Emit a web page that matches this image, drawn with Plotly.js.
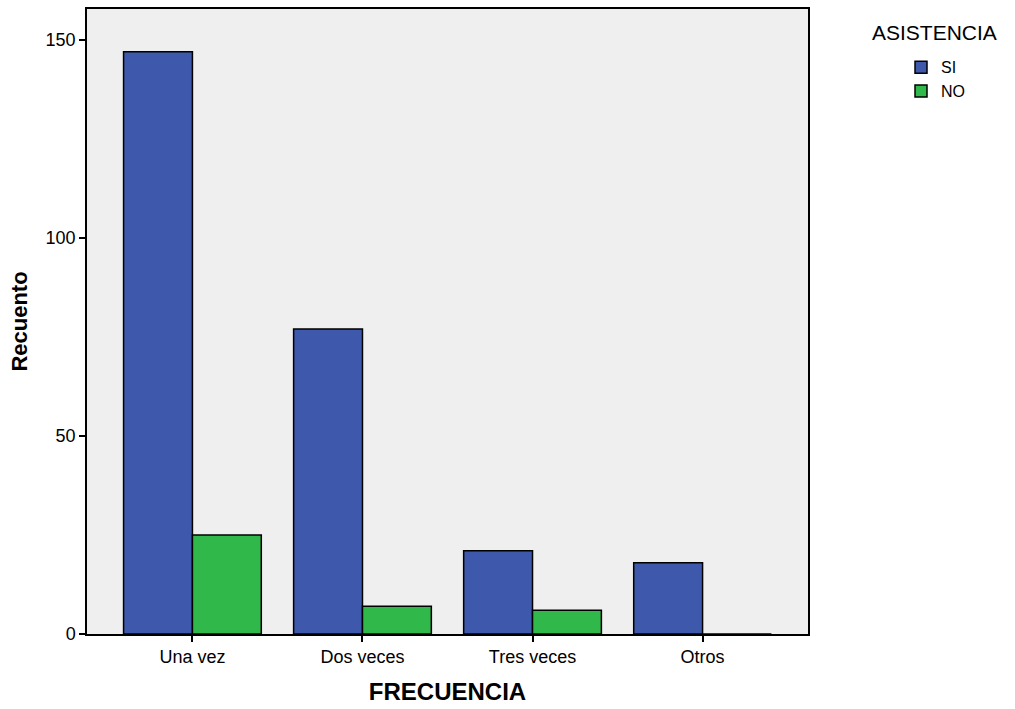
<!DOCTYPE html>
<html>
<head>
<meta charset="utf-8">
<script src="https://cdn.plot.ly/plotly-3.0.1.min.js"></script>
<style>body{margin:0;padding:0;background:#fff}#chart{width:1015px;height:709px}</style>
</head>
<body>
<div id="chart"></div>
<script>
const categories = ["Una vez", "Dos veces", "Tres veces", "Otros"];
const siValues = [147, 77, 21, 18];
const noValues = [25, 7, 6, 0];
const seriesNames = ["SI", "NO"];
const legendTitle = "ASISTENCIA";
const yTicks = [0, 50, 100, 150];

const traces = [
  {type: "bar", name: seriesNames[0], x: categories, y: siValues,
   marker: {color: "#3e58ab", line: {color: "#000", width: 1.5}}},
  {type: "bar", name: seriesNames[1], x: categories, y: noValues,
   marker: {color: "#30b84a", line: {color: "#000", width: 1.5}}}
];

const layout = {
  width: 1015, height: 709,
  margin: {l: 87, r: 207, t: 9, b: 75},
  paper_bgcolor: "#ffffff",
  plot_bgcolor: "#efefef",
  font: {family: "Liberation Sans, Arial, sans-serif", color: "#000", size: 18},
  barmode: "group",
  bargap: 0.19,
  bargroupgap: 0,
  xaxis: {
    range: [-0.62, 3.62],
    showline: true, linecolor: "#000", linewidth: 1.5, mirror: true,
    ticks: "outside", ticklen: 6, tickwidth: 1.5, tickcolor: "#000",
    showgrid: false, zeroline: false,
    tickfont: {size: 18},
    title: {text: "<b>FRECUENCIA</b>", font: {size: 24}, standoff: 17}
  },
  yaxis: {
    range: [0, 157.8],
    tickvals: yTicks,
    showline: true, linecolor: "#000", linewidth: 1.5, mirror: true,
    ticks: "outside", ticklen: 6, tickwidth: 1.5, tickcolor: "#000",
    showgrid: false, zeroline: false,
    tickfont: {size: 18},
    title: {text: "<b>Recuento</b>", font: {size: 22}, standoff: 12}
  },
  showlegend: true,
  legend: {
    x: 1.086, y: 0.934, xanchor: "left", yanchor: "top",
    font: {size: 16},
    indentation: 31,
    tracegroupgap: 0,
    itemwidth: 30,
    bgcolor: "rgba(0,0,0,0)"
  },
  annotations: [{
    text: legendTitle, xref: "paper", yref: "paper",
    x: 1.086, y: 0.963, xanchor: "left", yanchor: "middle",
    showarrow: false, font: {size: 21}
  }]
};

Plotly.newPlot("chart", traces, layout, {displayModeBar: false});
</script>
</body>
</html>
